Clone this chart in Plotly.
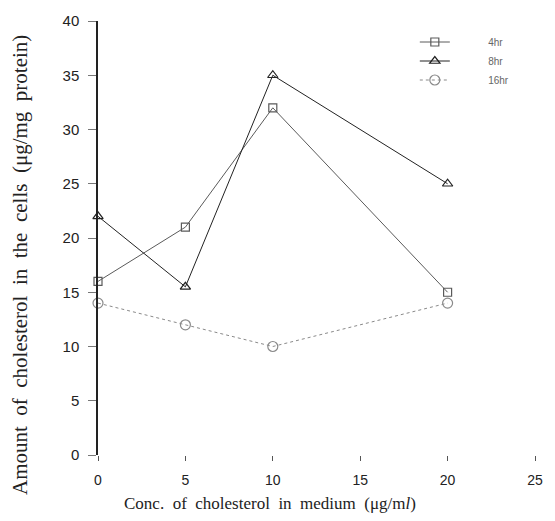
import plotly.graph_objects as go

conc = [0, 5, 10, 20]
hr4 = [16, 21, 32, 15]
hr8 = [22, 15.5, 35, 25]
hr16 = [14, 12, 10, 14]
series_names = ["4hr", "8hr", "16hr"]
x_ticks = [0, 5, 10, 15, 20, 25]
y_ticks = [0, 5, 10, 15, 20, 25, 30, 35, 40]

fig = go.Figure()
styles = [
    (hr4, "square-open", "#5a5a5a", "solid", 8),
    (hr8, "triangle-up-open", "#222222", "solid", 9),
    (hr16, "circle-open", "#8a8a8a", "dot", 10),
]
for (vals, sym, col, dash, sz), name in zip(styles, series_names):
    fig.add_trace(go.Scatter(
        x=conc, y=vals, mode="lines+markers",
        name="\u00a0" * 12 + name,
        line=dict(color=col, width=1, dash=dash),
        marker=dict(symbol=sym, size=sz, color=col, line=dict(width=1.2, color=col)),
        cliponaxis=False,
    ))

fig.update_layout(
    width=555, height=521,
    margin=dict(l=98, r=17, t=13, b=66),
    plot_bgcolor="white", paper_bgcolor="white",
    showlegend=True,
    legend=dict(x=0.725, y=0.985, xanchor="left", yanchor="top",
                font=dict(family="Liberation Sans, Arial", size=10, color="#666666"),
                bgcolor="rgba(0,0,0,0)", tracegroupgap=0, itemwidth=30),
    font=dict(family="Liberation Sans, Arial", color="#222222"),
)
fig.update_xaxes(
    range=[0, 25], tickvals=x_ticks, ticktext=[str(v) for v in x_ticks],
    showline=False, showgrid=False, zeroline=False,
    ticks="outside", ticklen=5, tickwidth=1, tickcolor="#555555",
    ticklabelstandoff=7,
    tickfont=dict(size=14, color="#222222"),
)
fig.update_yaxes(
    range=[0, 40], tickvals=y_ticks, ticktext=[str(v) for v in y_ticks],
    showline=True, linecolor="#222222", linewidth=1.5,
    showgrid=False, zeroline=False,
    ticks="outside", ticklen=8, tickwidth=1, tickcolor="#777777",
    ticklabelstandoff=6,
    tickfont=dict(size=15, color="#222222"),
)
fig.add_annotation(
    text="Conc.  of  cholesterol  in  medium  (\u03bcg/m<i>l</i>)",
    xref="paper", yref="paper", x=(271 - 98) / 440, y=-(504 - 455) / 442,
    xanchor="center", yanchor="middle", showarrow=False,
    font=dict(family="Liberation Serif, Times New Roman", size=17, color="#222222"),
)
fig.add_annotation(
    text="Amount  of  cholesterol  in  the  cells  (\u03bcg/mg  protein)",
    xref="paper", yref="paper", x=-(98 - 20) / 440, y=(455 - 262) / 442,
    xanchor="center", yanchor="middle", textangle=-90, showarrow=False,
    font=dict(family="Liberation Serif, Times New Roman", size=21, color="#222222"),
)
fig.write_html("out.html")
